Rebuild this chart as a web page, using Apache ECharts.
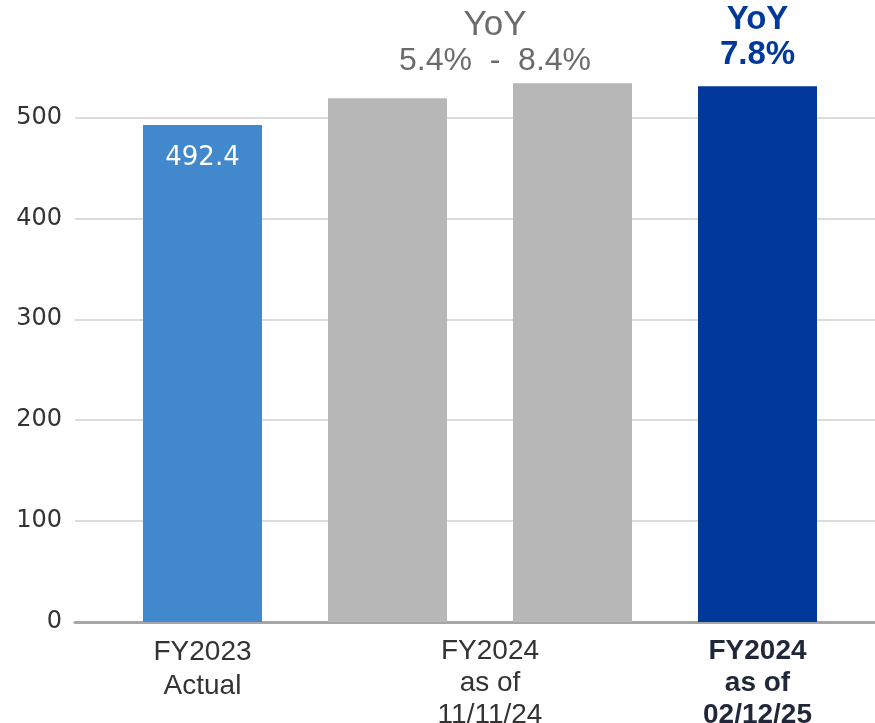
<!DOCTYPE html>
<html>
<head>
<meta charset="utf-8">
<script src="https://cdn.jsdelivr.net/npm/echarts@6/dist/echarts.min.js"></script>
<style>html,body{margin:0;padding:0;background:#fff}#c{width:875px;height:723px}</style>
</head>
<body>
<div id="c"></div>
<script>
const categories = ['FY2023 Actual', 'FY2024 as of 11/11/24 (low)', 'FY2024 as of 11/11/24 (high)', 'FY2024 as of 02/12/25'];
const axisLabels = ['FY2023\nActual', 'FY2024\nas of\n11/11/24', '', 'FY2024\nas of\n02/12/25'];
const values = [492.4, 519.0, 533.8, 530.8];
const valueLabels = ['492.4', '', '', 'YoY\n7.8%'];
const rangeNote = ['YoY', '5.4%  -  8.4%'];
const yTicks = [0, 100, 200, 300, 400, 500];
const barColors = ['#4189CC', '#B7B7B7', '#B7B7B7', '#00399A'];

const NARROW = '"Liberation Sans Narrow", "Liberation Sans", sans-serif';
const chart = echarts.init(document.getElementById('c'), null, {renderer: 'canvas'});
const gridTop = 16.5, gridBottom = 101;

chart.setOption({
  animation: false,
  title: [{
    text: '{a|' + rangeNote[0] + '}\n{p|' + rangeNote[1] + '}',
    left: 490, top: 2, textAlign: 'center',
    textStyle: {
      fontWeight: 'normal',
      rich: {
        a: {fontFamily: NARROW, fontSize: 35, fontWeight: 'normal', color: '#6B6B6B', lineHeight: 36},
        p: {fontFamily: NARROW, fontSize: 32, fontWeight: 'normal', color: '#6B6B6B', lineHeight: 36}
      }
    }
  }],
  grid: [
    {left: 75, right: 0, top: gridTop, bottom: gridBottom, outerBoundsMode: 'none', containLabel: false},
    {left: 110, right: 25, top: gridTop, bottom: gridBottom, outerBoundsMode: 'none', containLabel: false}
  ],
  xAxis: [
    {gridIndex: 0, type: 'value', min: 0, max: 1, axisLabel: {show: false}, axisTick: {show: false},
     splitLine: {show: false}, axisLine: {show: true, onZero: true, lineStyle: {color: '#A6A6A6', width: 3}}},
    {gridIndex: 1, type: 'category', data: categories, axisLine: {show: false}, axisTick: {show: false},
     axisLabel: {
       interval: 0, margin: 13,
       formatter: (v, i) => {
         const lines = axisLabels[i].split('\n');
         const style = i === 3 ? 'b' : (i === 1 ? 'm' : 'n');
         return lines.map(l => '{' + style + '|' + l + '}').join('\n');
       },
       rich: {
         n: {fontFamily: NARROW, fontSize: 28, color: '#333333', lineHeight: 34},
         m: {fontFamily: NARROW, fontSize: 28, color: '#333333', lineHeight: 32, padding: [0, 0, 0, 205]},
         b: {fontFamily: NARROW, fontSize: 28, color: '#1F2738', fontWeight: 'bold', lineHeight: 32}
       }
     }}
  ],
  yAxis: [
    {gridIndex: 0, type: 'value', min: 0, max: 600, interval: 100,
     axisLine: {show: false}, axisTick: {show: false},
     axisLabel: {showMaxLabel: false, margin: 13, fontFamily: '"DejaVu Sans", sans-serif', fontSize: 24, color: '#333333',
       formatter: v => yTicks.includes(v) ? String(v) : ''},
     splitLine: {show: true, lineStyle: {width: 1.5, color: ['#D0D0D0', '#D0D0D0', '#D0D0D0', '#D0D0D0', '#D0D0D0', '#D0D0D0', 'rgba(0,0,0,0)']}}},
    {gridIndex: 1, type: 'value', min: 0, max: 600, interval: 100, show: false, splitLine: {show: false}}
  ],
  series: [{
    type: 'bar', xAxisIndex: 1, yAxisIndex: 1, barWidth: 119,
    data: values.map((v, i) => ({
      value: v,
      itemStyle: {color: barColors[i]},
      label: i === 0 ? {
        show: true, position: 'insideTop', distance: 20, formatter: valueLabels[i],
        fontFamily: '"DejaVu Sans", sans-serif', fontSize: 26, color: '#FFFFFF'
      } : (i === 3 ? {
        show: true, position: 'top', distance: 14,
        formatter: valueLabels[i].split('\n').map(l => '{y|' + l + '}').join('\n'),
        rich: {y: {fontFamily: NARROW, fontSize: 33, fontWeight: 'bold', color: '#00399A', lineHeight: 35}}
      } : {show: false})
    }))
  }]
});
</script>
</body>
</html>
